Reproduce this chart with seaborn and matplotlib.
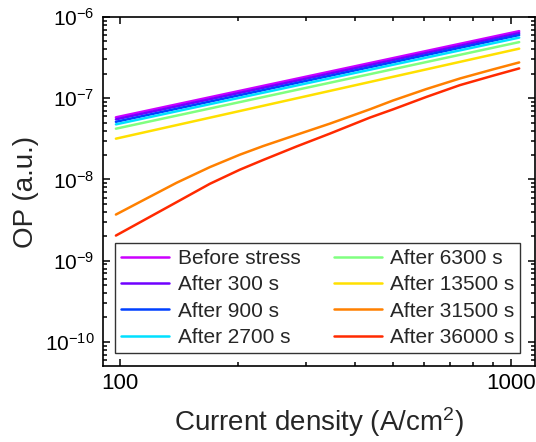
import numpy as np
import pandas as pd
import seaborn as sns
import matplotlib.pyplot as plt
from matplotlib.ticker import LogLocator, FixedLocator, FixedFormatter, NullFormatter

labels = ["Before stress", "After 300 s", "After 900 s", "After 2700 s",
          "After 6300 s", "After 13500 s", "After 31500 s", "After 36000 s"]
colors = ["#CC00FF", "#7000FF", "#0040FF", "#00E0FF",
          "#80FF80", "#FFE000", "#FF8000", "#FF2A00"]

# straight (power-law) curves: read at both ends
x_line = [97.7, 1050]
op_before = [5.82e-8, 6.70e-7]
op_300 = [5.50e-8, 6.34e-7]
op_900 = [5.13e-8, 6.00e-7]
op_2700 = [4.77e-8, 5.58e-7]
op_6300 = [4.22e-8, 4.91e-7]
op_13500 = [3.18e-8, 4.08e-7]

# bent curves: read at several points
x_curve = [97.7, 114.7, 139.6, 169.9, 202.7, 232.6, 283.1, 344.4, 435.9,
           500.0, 608.5, 740.5, 901.2, 1050]
op_31500 = [3.70e-9, 5.55e-9, 9.10e-9, 1.42e-8, 2.02e-8, 2.58e-8, 3.55e-8,
            4.87e-8, 7.31e-8, 9.40e-8, 1.30e-7, 1.75e-7, 2.27e-7, 2.76e-7]
op_36000 = [2.04e-9, 3.12e-9, 5.25e-9, 8.85e-9, 1.32e-8, 1.74e-8, 2.55e-8,
            3.67e-8, 5.78e-8, 7.31e-8, 1.04e-7, 1.45e-7, 1.90e-7, 2.33e-7]

series = [op_before, op_300, op_900, op_2700, op_6300, op_13500, op_31500, op_36000]
frames = []
for lab, ys in zip(labels, series):
    xs = x_line if len(ys) == len(x_line) else x_curve
    frames.append(pd.DataFrame({"J": xs, "OP": ys, "cond": lab}))
df = pd.concat(frames, ignore_index=True)

sns.set_style("ticks")
plt.rcParams['font.family'] = ['Liberation Sans', 'DejaVu Sans']
plt.rcParams['mathtext.fontset'] = 'custom'
plt.rcParams['mathtext.rm'] = 'Liberation Sans'
plt.rcParams['mathtext.it'] = 'Liberation Sans:italic'

fig = plt.figure(figsize=(5.36, 4.42), dpi=100)
ax = fig.add_axes([0.192, 0.172, 0.806, 0.7895])

sns.lineplot(data=df, x="J", y="OP", hue="cond", hue_order=labels,
             palette=colors, linewidth=1.8, ax=ax, sort=False)

ax.set_xscale("log")
ax.set_yscale("log")
ax.set_xlim(90.5, 1152)
ax.set_ylim(5.06e-11, 1e-6)

ax.xaxis.set_major_locator(FixedLocator([100, 1000]))
ax.xaxis.set_major_formatter(FixedFormatter(["100", "1000"]))
ax.xaxis.set_minor_locator(LogLocator(base=10, subs=np.arange(2, 10)))
ax.xaxis.set_minor_formatter(NullFormatter())
ax.yaxis.set_major_locator(LogLocator(base=10, numticks=20))
ax.yaxis.set_minor_locator(LogLocator(base=10, subs=np.arange(2, 10), numticks=20))
ax.yaxis.set_minor_formatter(NullFormatter())

ax.tick_params(which="both", direction="in", top=True, right=True,
               width=1.1, colors="black")
ax.tick_params(axis="x", labelsize=16, pad=5)
ax.tick_params(axis="y", labelsize=15, pad=6)
ax.tick_params(which="major", length=5)
ax.tick_params(which="minor", length=3)
for s in ax.spines.values():
    s.set_linewidth(1.2)
    s.set_color("black")

ax.set_xlabel("Current density (A/cm$^2$)", fontsize=20, labelpad=8)
ax.set_ylabel("OP (a.u.)", fontsize=20, labelpad=4)

leg = ax.legend(ncol=2, loc="lower left", bbox_to_anchor=(0.028, 0.037),
                fontsize=15, frameon=True, fancybox=False, edgecolor="black",
                handlelength=2.3, handletextpad=0.4, columnspacing=1.6,
                labelspacing=0.35, borderpad=0.3, borderaxespad=0.0)
leg.get_frame().set_linewidth(1.0)

fig.savefig("out.png", dpi=100)
